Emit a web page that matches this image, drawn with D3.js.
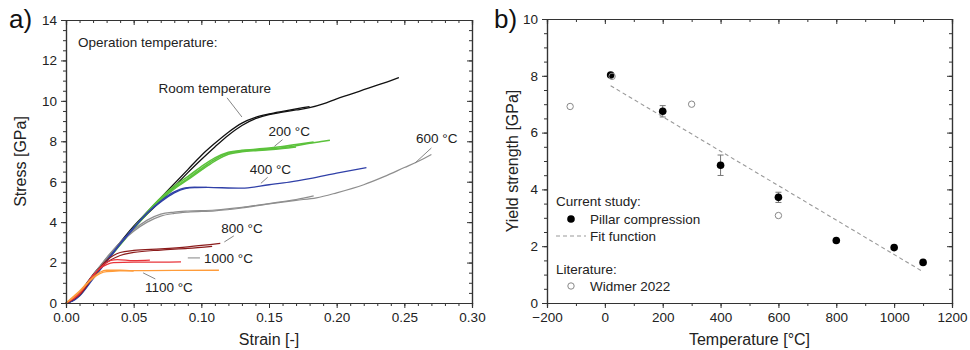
<!DOCTYPE html>
<html>
<head>
<meta charset="utf-8">
<script src="https://cdn.jsdelivr.net/npm/d3@7"></script>
<style>
  body { margin: 0; background: #fff; }
  svg { display: block; font-family: "Liberation Sans", Arial, sans-serif; }
</style>
</head>
<body>
<svg id="chart" width="970" height="350"></svg>
<script>
// ---- data: panel a (stress-strain curves, [strain, stress GPa]) ----
const strainTicks = [0, 0.05, 0.10, 0.15, 0.20, 0.25, 0.30];
const stressTicks = [0, 2, 4, 6, 8, 10, 12, 14];

const curvesRT = [
  [[0,0],[0.005,0.15],[0.01,0.5],[0.015,0.95],[0.02,1.4],[0.025,1.8],[0.03,2.2],[0.04,3.0],[0.05,3.8],[0.06,4.5],[0.07,5.2],[0.08,5.9],[0.09,6.6],[0.1,7.3],[0.11,7.9],[0.12,8.45],[0.13,8.9],[0.14,9.18],[0.15,9.35],[0.16,9.48],[0.17,9.6],[0.18,9.72]],
  [[0,0],[0.005,0.12],[0.01,0.45],[0.015,0.9],[0.02,1.35],[0.025,1.75],[0.03,2.15],[0.04,2.9],[0.05,3.7],[0.06,4.4],[0.07,5.05],[0.08,5.75],[0.09,6.45],[0.1,7.1],[0.11,7.72],[0.12,8.3],[0.13,8.78],[0.14,9.12],[0.15,9.32],[0.16,9.44],[0.17,9.55],[0.18,9.66],[0.19,9.85],[0.2,10.1],[0.21,10.32],[0.22,10.55],[0.23,10.78],[0.24,11.0],[0.246,11.15]]
];
const curves200 = [
  [[0,0],[0.01,0.4],[0.02,1.3],[0.03,2.1],[0.04,2.9],[0.05,3.7],[0.06,4.45],[0.07,5.15],[0.08,5.7],[0.09,6.15],[0.1,6.65],[0.11,7.1],[0.12,7.42],[0.13,7.52],[0.14,7.57],[0.15,7.62],[0.16,7.68],[0.17,7.78],[0.18,7.9],[0.19,8.0],[0.195,8.05]],
  [[0,0],[0.01,0.42],[0.02,1.32],[0.03,2.12],[0.04,2.92],[0.05,3.72],[0.06,4.5],[0.07,5.2],[0.08,5.78],[0.09,6.25],[0.1,6.75],[0.11,7.18],[0.12,7.46],[0.13,7.55],[0.14,7.6],[0.15,7.66],[0.16,7.74],[0.17,7.84],[0.183,7.96]],
  [[0,0],[0.01,0.38],[0.02,1.28],[0.03,2.08],[0.04,2.88],[0.05,3.68],[0.06,4.42],[0.07,5.1],[0.08,5.65],[0.09,6.1],[0.1,6.58],[0.11,7.02],[0.12,7.36],[0.13,7.48],[0.14,7.54],[0.15,7.58],[0.16,7.64],[0.17,7.72]]
];
const curves400 = [
  [[0,0],[0.005,0.1],[0.01,0.35],[0.02,1.2],[0.03,2.05],[0.04,2.9],[0.05,3.7],[0.06,4.45],[0.07,5.05],[0.08,5.5],[0.088,5.7],[0.095,5.73],[0.105,5.72],[0.13,5.68],[0.15,5.85],[0.165,5.98],[0.18,6.15],[0.2,6.42],[0.222,6.7]],
  [[0,0],[0.005,0.12],[0.01,0.4],[0.02,1.25],[0.03,2.1],[0.04,2.95],[0.05,3.72],[0.06,4.45],[0.07,5.0],[0.08,5.45],[0.088,5.66],[0.095,5.71],[0.104,5.72]]
];
const curves600 = [
  [[0,0],[0.01,0.45],[0.02,1.35],[0.03,2.2],[0.04,2.95],[0.05,3.55],[0.06,4.0],[0.07,4.3],[0.08,4.43],[0.09,4.5],[0.11,4.56],[0.13,4.7],[0.15,4.9],[0.17,5.08],[0.185,5.2],[0.2,5.45],[0.22,5.85],[0.235,6.25],[0.25,6.7],[0.26,7.0],[0.27,7.35]],
  [[0,0],[0.01,0.47],[0.02,1.38],[0.03,2.25],[0.04,3.0],[0.05,3.62],[0.06,4.1],[0.07,4.4],[0.08,4.5],[0.09,4.55],[0.11,4.6],[0.13,4.73],[0.15,4.92],[0.17,5.12],[0.183,5.3]]
];
const curves800 = [
  [[0,0],[0.01,0.4],[0.02,1.3],[0.025,1.75],[0.03,2.1],[0.035,2.35],[0.04,2.5],[0.05,2.6],[0.07,2.68],[0.09,2.78],[0.114,2.95]],
  [[0,0],[0.01,0.42],[0.02,1.3],[0.025,1.7],[0.03,2.0],[0.04,2.35],[0.05,2.5],[0.07,2.62],[0.09,2.7],[0.108,2.8]]
];
const curves1000 = [
  [[0,0],[0.01,0.45],[0.02,1.35],[0.027,1.85],[0.033,2.1],[0.038,2.15],[0.05,2.1],[0.062,2.12]],
  [[0,0],[0.01,0.48],[0.02,1.38],[0.025,1.7],[0.03,1.9],[0.035,2.0],[0.05,2.02],[0.07,2.02],[0.085,2.03]]
];
const curves1100 = [
  [[0,0],[0.005,0.3],[0.01,0.6],[0.015,0.95],[0.02,1.28],[0.025,1.52],[0.03,1.62],[0.04,1.62],[0.05,1.58]],
  [[0,0],[0.005,0.25],[0.01,0.55],[0.015,0.9],[0.02,1.22],[0.025,1.45],[0.03,1.55],[0.05,1.6],[0.08,1.61],[0.113,1.62]]
];

// ---- data: panel b (yield strength vs temperature) ----
const tempTicks = [-200, 0, 200, 400, 600, 800, 1000, 1200];
const yieldTicks = [0, 2, 4, 6, 8, 10];
const pillarTemp  = [20, 200, 400, 600, 800, 1000, 1100];
const pillarYield = [8.03, 6.75, 4.85, 3.72, 2.2, 1.95, 1.43];
const pillarErr   = [0, 0.2, 0.36, 0.18, 0, 0, 0];
const widmerTemp  = [-120, 25, 300, 600];
const widmerYield = [6.92, 7.98, 7.0, 3.08];
const fitTemp  = [20, 1100];
const fitYield = [7.65, 1.1];

const svg = d3.select('#chart');
const ink = '#222';

function frame(g, x, y, w, h, xTicks, xMinor, yTicks, yMinor, xFmt) {
  const major = 5, minor = 3;
  const style = sel => {
    sel.selectAll('.domain').attr('stroke', '#333').attr('stroke-width', 1.2);
    sel.selectAll('.tick line').attr('stroke', '#333').attr('stroke-width', 1);
    sel.selectAll('.tick text').attr('fill', ink).style('font-size', '13.5px');
  };
  g.append('g').attr('transform', `translate(0,${h})`)
    .call(d3.axisBottom(x).tickValues(xMinor).tickSize(minor).tickFormat('')).call(style);
  g.append('g').attr('transform', `translate(0,${h})`)
    .call(d3.axisBottom(x).tickValues(xTicks).tickSize(major).tickPadding(4).tickFormat(xFmt)).call(style);
  g.append('g')
    .call(d3.axisTop(x).tickValues(xMinor).tickSize(-minor).tickFormat('')).call(style);
  g.append('g')
    .call(d3.axisTop(x).tickValues(xTicks).tickSize(-major).tickFormat('')).call(style);
  g.append('g')
    .call(d3.axisLeft(y).tickValues(yMinor).tickSize(minor).tickFormat('')).call(style);
  g.append('g')
    .call(d3.axisLeft(y).tickValues(yTicks).tickSize(major).tickPadding(4).tickFormat(d3.format('d'))).call(style);
  g.append('g').attr('transform', `translate(${w},0)`)
    .call(d3.axisRight(y).tickValues(yMinor).tickSize(-minor).tickFormat('')).call(style);
  g.append('g').attr('transform', `translate(${w},0)`)
    .call(d3.axisRight(y).tickValues(yTicks).tickSize(-major).tickFormat('')).call(style);
}

// ================= panel a =================
const A = { left: 66, top: 20, w: 406, h: 283 };
const ga = svg.append('g').attr('transform', `translate(${A.left},${A.top})`);
const xa = d3.scaleLinear().domain([0, 0.30]).range([0, A.w]);
const ya = d3.scaleLinear().domain([0, 14]).range([A.h, 0]);

const line = d3.line().x(d => xa(d[0])).y(d => ya(d[1])).curve(d3.curveMonotoneX);

const groups = [
  { curves: curvesRT,   color: '#111111', width: 1.3 },
  { curves: curves200,  color: '#5cc23c', width: 1.6 },
  { curves: curves600,  color: '#8e8e8e', width: 1.2 },
  { curves: curves400,  color: '#3040a8', width: 1.3 },
  { curves: curves800,  color: '#8b1c1c', width: 1.2 },
  { curves: curves1000, color: '#e8343a', width: 1.2 },
  { curves: curves1100, color: '#ff9c3a', width: 1.3 }
];
groups.forEach(gr => {
  ga.append('g').selectAll('path').data(gr.curves).join('path')
    .attr('fill', 'none').attr('stroke', gr.color)
    .attr('stroke-width', gr.width).attr('stroke-linejoin', 'round')
    .attr('d', line);
});

frame(ga, xa, ya, A.w, A.h, strainTicks, d3.range(0, 0.3001, 0.01), stressTicks, d3.range(0, 14.01, 0.5), d3.format('.2f'));

// annotations (text at data coords, leader from [x1,y1] to [x2,y2])
const notes = [
  { t: 'Room temperature', x: 0.110, y: 10.4, anchor: 'middle', l: [0.119, 10.15, 0.130, 9.2] },
  { t: '200 °C', x: 0.165, y: 8.27, anchor: 'middle', l: [0.160, 8.08, 0.154, 7.75] },
  { t: '400 °C', x: 0.151, y: 6.39, anchor: 'middle', l: [0.149, 6.22, 0.144, 5.92] },
  { t: '600 °C', x: 0.274, y: 7.92, anchor: 'middle', l: [0.270, 7.67, 0.258, 6.93] },
  { t: '800 °C', x: 0.130, y: 3.47, anchor: 'middle', l: [0.124, 3.32, 0.117, 3.02] },
  { t: '1000 °C', x: 0.102, y: 1.98, anchor: 'start', l: [0.090, 2.23, 0.099, 2.23] },
  { t: '1100 °C', x: 0.076, y: 0.54, anchor: 'middle', l: [0.057, 1.49, 0.066, 1.19] }
];
notes.forEach(n => {
  ga.append('line')
    .attr('x1', xa(n.l[0])).attr('y1', ya(n.l[1]))
    .attr('x2', xa(n.l[2])).attr('y2', ya(n.l[3]))
    .attr('stroke', '#777').attr('stroke-width', 0.9);
  ga.append('text').attr('x', xa(n.x)).attr('y', ya(n.y))
    .attr('text-anchor', n.anchor).attr('fill', ink)
    .style('font-size', '13.5px').text(n.t);
});
ga.append('text').attr('x', 12).attr('y', 27).attr('fill', ink)
  .style('font-size', '13.5px').text('Operation temperature:');

svg.append('text').attr('x', A.left + A.w / 2).attr('y', 345)
  .attr('text-anchor', 'middle').attr('fill', ink).style('font-size', '16px').text('Strain [-]');
svg.append('text').attr('transform', `translate(26,${A.top + A.h / 2}) rotate(-90)`)
  .attr('text-anchor', 'middle').attr('fill', ink).style('font-size', '16px').text('Stress [GPa]');
svg.append('text').attr('x', 9).attr('y', 28).attr('fill', '#111')
  .style('font-size', '26px').text('a)');

// ================= panel b =================
const B = { left: 547, top: 19, w: 405, h: 284 };
const gb = svg.append('g').attr('transform', `translate(${B.left},${B.top})`);
const xb = d3.scaleLinear().domain([-200, 1200]).range([0, B.w]);
const yb = d3.scaleLinear().domain([0, 10]).range([B.h, 0]);

frame(gb, xb, yb, B.w, B.h, tempTicks, d3.range(-200, 1201, 100), yieldTicks, d3.range(0, 10.01, 0.5), d3.format('d'));

gb.append('line')
  .attr('x1', xb(fitTemp[0])).attr('y1', yb(fitYield[0]))
  .attr('x2', xb(fitTemp[1])).attr('y2', yb(fitYield[1]))
  .attr('stroke', '#999').attr('stroke-width', 1.1).attr('stroke-dasharray', '4,3');

const pillar = pillarTemp.map((t, i) => ({ t, v: pillarYield[i], e: pillarErr[i] }));
const errs = gb.append('g').attr('stroke', '#777').attr('stroke-width', 1);
pillar.filter(d => d.e > 0).forEach(d => {
  const cx = xb(d.t);
  errs.append('line').attr('x1', cx).attr('x2', cx).attr('y1', yb(d.v - d.e)).attr('y2', yb(d.v + d.e));
  [d.v - d.e, d.v + d.e].forEach(v =>
    errs.append('line').attr('x1', cx - 3).attr('x2', cx + 3).attr('y1', yb(v)).attr('y2', yb(v)));
});

const widmer = widmerTemp.map((t, i) => ({ t, v: widmerYield[i] }));
gb.append('g').selectAll('circle').data(pillar).join('circle')
  .attr('cx', d => xb(d.t)).attr('cy', d => yb(d.v)).attr('r', 3.8).attr('fill', '#000');
gb.append('g').selectAll('circle').data(widmer).join('circle')
  .attr('cx', d => xb(d.t)).attr('cy', d => yb(d.v)).attr('r', 3.2)
  .attr('fill', 'none').attr('stroke', '#888').attr('stroke-width', 1);

// legend
const lg = gb.append('g').style('font-size', '13.5px').attr('fill', ink);
lg.append('text').attr('x', 9).attr('y', 187).text('Current study:');
lg.append('circle').attr('cx', 24).attr('cy', 200).attr('r', 3.8).attr('fill', '#000');
lg.append('text').attr('x', 43).attr('y', 205).text('Pillar compression');
lg.append('line').attr('x1', 9).attr('x2', 39).attr('y1', 217).attr('y2', 217)
  .attr('stroke', '#999').attr('stroke-width', 1.1).attr('stroke-dasharray', '4,3');
lg.append('text').attr('x', 43).attr('y', 222).text('Fit function');
lg.append('text').attr('x', 9).attr('y', 255).text('Literature:');
lg.append('circle').attr('cx', 24).attr('cy', 267).attr('r', 3.2)
  .attr('fill', 'none').attr('stroke', '#888').attr('stroke-width', 1);
lg.append('text').attr('x', 43).attr('y', 272).text('Widmer 2022');

svg.append('text').attr('x', B.left + B.w / 2).attr('y', 345)
  .attr('text-anchor', 'middle').attr('fill', ink).style('font-size', '16px').text('Temperature [°C]');
svg.append('text').attr('transform', `translate(518,${B.top + B.h / 2}) rotate(-90)`)
  .attr('text-anchor', 'middle').attr('fill', ink).style('font-size', '16px').text('Yield strength [GPa]');
svg.append('text').attr('x', 494).attr('y', 28).attr('fill', '#111')
  .style('font-size', '26px').text('b)');
</script>
</body>
</html>
